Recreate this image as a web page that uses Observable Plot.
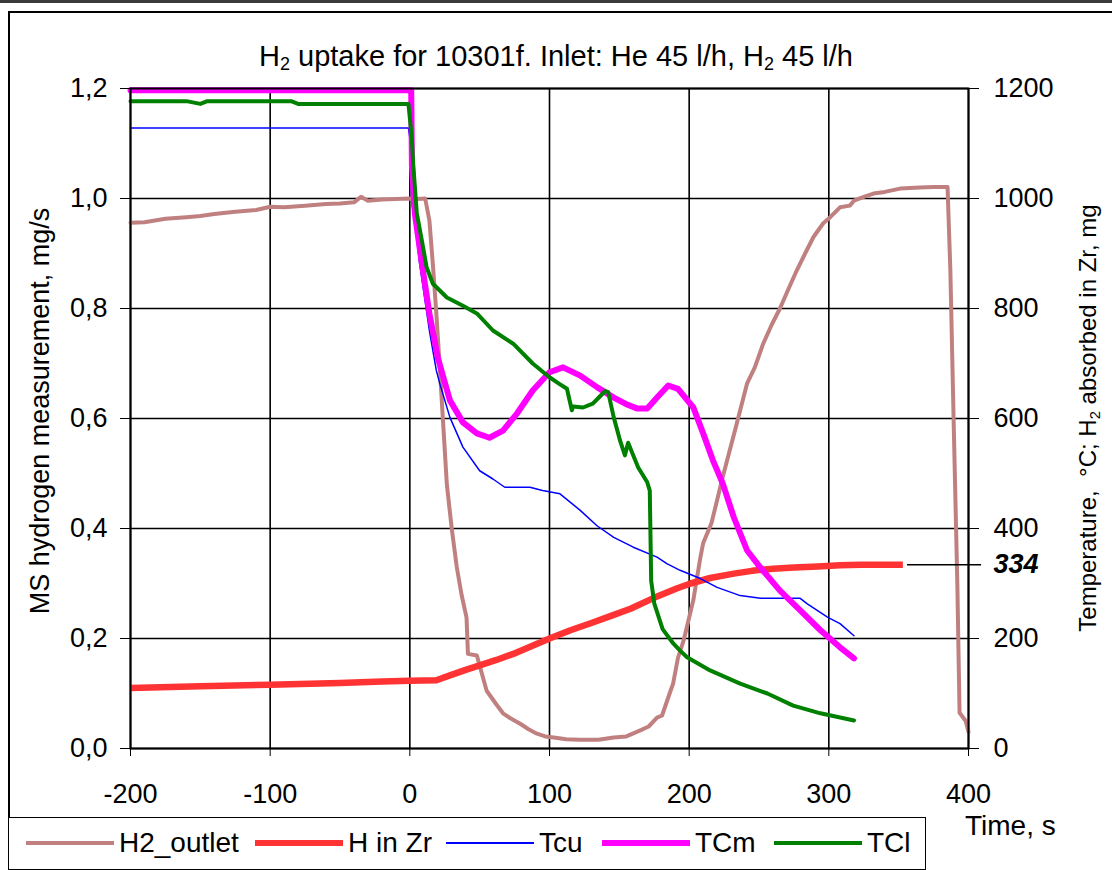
<!DOCTYPE html>
<html><head><meta charset="utf-8">
<script src="https://cdn.jsdelivr.net/npm/d3@7"></script>
<script src="https://cdn.jsdelivr.net/npm/@observablehq/plot@0.6"></script>
<style>
body{margin:0;background:#fff;font-family:"Liberation Sans",Arial,sans-serif;}
#wrap{position:relative;width:1112px;height:870px;overflow:hidden;background:#fff;}
#wrap svg{position:absolute;left:0;top:0;}
.topband{position:absolute;left:0;top:0;width:1112px;height:3px;background:#3a3a3a;}
.box{position:absolute;left:8px;top:11px;width:1300px;height:1000px;border:2px solid #000;box-sizing:border-box;}
.title{position:absolute;left:556px;top:56px;transform:translate(-50%,-50%);font-size:29px;white-space:nowrap;}
.ytitle{position:absolute;transform:translate(-50%,-50%) rotate(-90deg);white-space:nowrap;}
.xtitle{position:absolute;left:965px;top:810px;font-size:28px;white-space:nowrap;}
.legend{position:absolute;left:8px;top:817px;width:918px;height:53px;border:1.5px solid #000;box-sizing:border-box;background:#fff;}
.lg{position:absolute;top:0;height:50px;display:flex;align-items:center;font-size:28px;white-space:nowrap;}
.sw{display:inline-block;width:88px;margin-right:5px;}
sub{font-size:0.62em;vertical-align:-0.25em;line-height:0;}
</style></head><body><div id="wrap">
<div class="topband"></div>
<div class="box"></div>
</div>
<script>
// ---- data ----
const xTicks = [-200, -100, 0, 100, 200, 300, 400];
const leftTicks = [0, 0.2, 0.4, 0.6, 0.8, 1.0, 1.2];
const rightTicks = [0, 200, 400, 600, 800, 1000, 1200];
const seriesNames = ["H2_outlet", "H in Zr", "Tcu", "TCm", "TCl"];

// H2_outlet, mg/s (left axis)
const h2outT = [-200,-190,-175,-160,-150,-140,-125,-110,-100,-90,-75,-60,-50,-40,-35,-30,-20,-10,0,5,11,14,16.5,19,21.5,26.5,30,33.6,37,40.6,41.6,48,55,62,66.7,72,79,85,91,97,103,112,122,135,146,155,165,171,177,180.6,186,188.5,192,196,203,208,210,216,224,234,241.5,247,253,259,265,271,277,283,289,296,301,308,315,318,325,332,340,351,365,375,385,387,389.5,392,393.6,398,400];
const h2outV = [0.956,0.957,0.963,0.966,0.968,0.972,0.976,0.979,0.985,0.984,0.987,0.990,0.991,0.993,1.003,0.996,0.998,0.999,1.000,0.999,1.000,0.96,0.88,0.79,0.69,0.48,0.40,0.33,0.28,0.238,0.172,0.169,0.105,0.080,0.064,0.055,0.045,0.035,0.027,0.022,0.020,0.017,0.016,0.016,0.020,0.022,0.033,0.040,0.056,0.060,0.100,0.118,0.165,0.196,0.270,0.347,0.373,0.410,0.493,0.590,0.664,0.693,0.736,0.770,0.800,0.835,0.869,0.900,0.930,0.955,0.966,0.984,0.987,0.996,1.003,1.009,1.012,1.018,1.020,1.021,1.021,0.870,0.580,0.300,0.065,0.050,0.030];

// H in Zr, mg (right axis)
const hzrT = [-200,-150,-100,-50,-20,0,19,28.7,40,50,62,74,87,100,115,131,145,158,174,191,201,215,232,245,260,275,292,308,323,340,353];
const hzrV = [110,113,116,119,122,123,124,133,143,151,161,172,186,200,215,229,242,254,273,291,300,310,318,323,327,329,331,333,334,334,334];

// Tcu, °C (right axis)
const tcuT = [-200,-100,-1,0,1.5,4,7,14,19,21.5,28.7,38,50,59.5,68,86,95,107.5,122,134,146,160,177,184,193.5,208,220,236.5,251,279.5,284.6,299,308,318];
const tcuV = [1128,1128,1128,1110,990,950,882,760,687,663,602,548,505,490,475,475,469,463,433,405,384,366,348,336,324,309,293,278,273,273,263,239,227,205];

// TCm, °C (right axis)
const tcmT = [-200,-100,0,1,1.5,3.6,8.6,14,20,24,28.7,38,48,57,66.7,76.7,88,100,109.7,122,134,146,155,163,170,177,185,192,203,210,217,224,232,241.5,251,265,279.5,294,308,318];
const tcmV = [1197,1197,1197,1197,1060,972,882,791,711,675,633,593,573,565,578,609,651,684,693,678,657,638,626,618,618,638,660,654,620,573,524,482,420,360,329,287,251,215,184,164];

// TCl, °C (right axis)
const tclT = [-200,-160,-150,-145,-120,-85,-80,-40,-1,1.4,2.4,5,8.6,12,16.5,26.5,38,48,59.5,74,88,100,107,112.5,116,117,124,131,136,140,142,146,150.5,154,156.3,163.5,170,171.8,172.8,175,181,188.6,193.5,198.5,215,236.5,256,274.5,294,318];
const tclV = [1177,1177,1172,1177,1177,1177,1172,1172,1172,1111,1063,973,924,875,845,820,805,791,760,736,700,675,663,654,615,622,620,627,640,650,648,602,560,533,556,511,484,469,305,264,217,191,178,166,142,118,100,78,64,51];

// annotation of the final absorbed amount
const finalLabel = [{t1: 356, t2: 409, value: 334}];

// ---- build table ----
const styles = {
  "H2_outlet": {color: "#c08080", width: 4},
  "H in Zr":  {color: "#ff3333", width: 6.5},
  "Tcu":      {color: "#0000ff", width: 1.5},
  "TCm":      {color: "#ff00ff", width: 6},
  "TCl":      {color: "#008000", width: 4}
};
const rows = [];
h2outT.forEach((t, i) => rows.push({series: "H2_outlet", t, y: h2outV[i]}));
hzrT.forEach((t, i) => rows.push({series: "H in Zr", t, y: hzrV[i] / 1000}));
tcuT.forEach((t, i) => rows.push({series: "Tcu", t, y: tcuV[i] / 1000}));
tcmT.forEach((t, i) => rows.push({series: "TCm", t, y: tcmV[i] / 1000}));
tclT.forEach((t, i) => rows.push({series: "TCl", t, y: tclV[i] / 1000}));

const comma = d => d.toFixed(1).replace(".", ",");

const lineMarks = seriesNames.map(s => Plot.line(rows.filter(r => r.series === s), {
  x: "t", y: "y", stroke: styles[s].color, strokeWidth: styles[s].width,
  strokeLinejoin: "round", strokeLinecap: s === "H in Zr" ? "butt" : "round"
}));

const chart = Plot.plot({
  width: 1112, height: 870,
  marginLeft: 130, marginRight: 144, marginTop: 88, marginBottom: 122,
  style: {fontFamily: "'Liberation Sans', Arial, sans-serif", fontSize: "27px", color: "#000", background: "transparent", overflow: "visible"},
  x: {domain: [-200, 400]},
  y: {domain: [0, 1.2]},
  marks: [
    Plot.gridX(xTicks, {stroke: "#000", strokeOpacity: 1, strokeWidth: 1.6}),
    Plot.gridY(leftTicks, {stroke: "#000", strokeOpacity: 1, strokeWidth: 1.6}),
    ...lineMarks,
    Plot.frame({stroke: "#000", strokeWidth: 2}),
    Plot.axisX(xTicks, {anchor: "bottom", tickSize: 8, tickPadding: 27, tickFormat: d => String(d), label: null, fontSize: 27}),
    Plot.axisY(leftTicks, {anchor: "left", tickSize: 10, tickPadding: 13, tickFormat: comma, label: null, fontSize: 27}),
    Plot.axisY(rightTicks.map(v => v / 1000), {anchor: "right", tickSize: 10, tickPadding: 15, tickFormat: d => String(Math.round(d * 1000)), label: null, fontSize: 27}),
    Plot.link(finalLabel, {x1: "t1", x2: "t2", y1: d => d.value / 1000, y2: d => d.value / 1000, stroke: "#000", strokeWidth: 1.6, clip: false}),
    Plot.text(finalLabel, {x: 400, y: d => d.value / 1000, text: d => String(d.value), textAnchor: "start", dx: 25, fontSize: 27, fontWeight: "bold", fontStyle: "italic", clip: false})
  ]
});
const wrap = document.getElementById("wrap");
wrap.appendChild(chart);

const add = (cls, html, css) => {
  const d = document.createElement("div");
  d.className = cls; d.innerHTML = html;
  if (css) Object.assign(d.style, css);
  wrap.appendChild(d);
  return d;
};
add("title", "H<sub>2</sub> uptake for 10301f. Inlet: He 45 l/h, H<sub>2</sub> 45 l/h");
add("ytitle", "MS hydrogen measurement, mg/s", {left: "40px", top: "411px", fontSize: "27px"});
add("ytitle", "Temperature, &nbsp;°C; H<sub>2</sub> absorbed in Zr, mg", {left: "1088px", top: "418px", fontSize: "24px"});
add("xtitle", "Time, s");

const legend = add("legend", "");
const legendPos = [25, 254, 445, 601, 773];
seriesNames.forEach((s, i) => {
  const e = document.createElement("div");
  e.className = "lg";
  e.style.left = (legendPos[i] - 8) + "px";
  e.innerHTML = `<span class="sw" style="height:${styles[s].width}px;background:${styles[s].color}"></span><span>${s}</span>`;
  legend.appendChild(e);
});
</script>
</body></html>
